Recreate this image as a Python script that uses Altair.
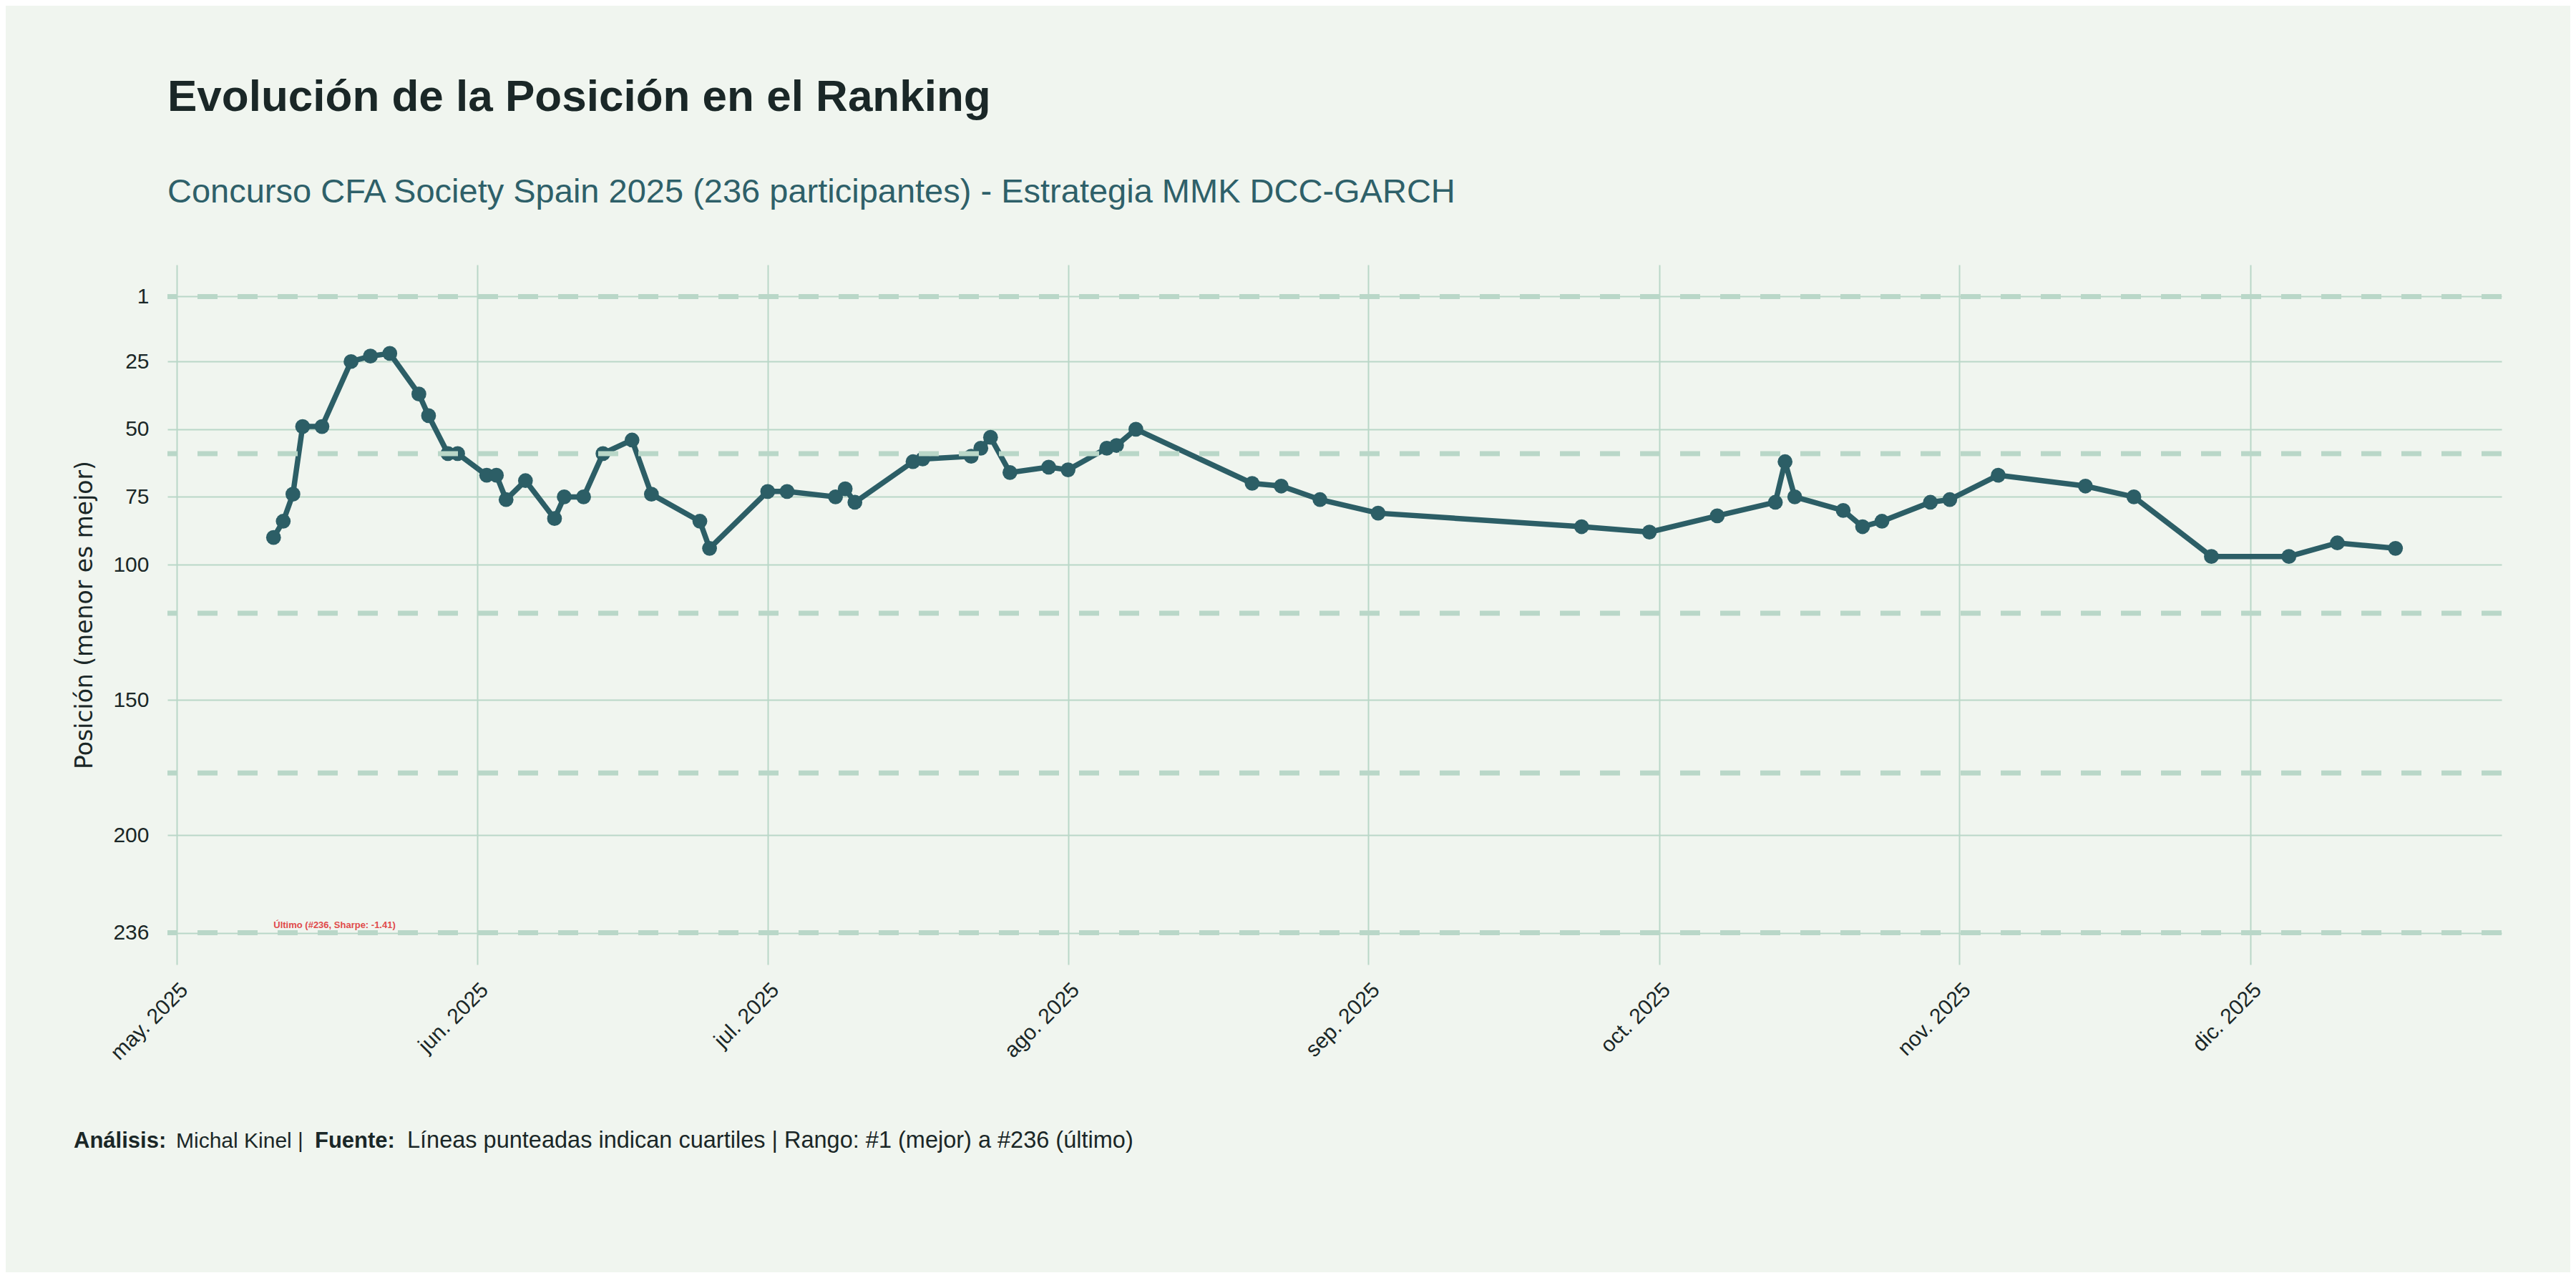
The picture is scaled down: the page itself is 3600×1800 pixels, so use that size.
import altair as alt
import pandas as pd

# ---------------- data ----------------
dates = [
    "2025-05-11", "2025-05-12", "2025-05-13", "2025-05-14", "2025-05-16",
    "2025-05-19", "2025-05-21", "2025-05-23", "2025-05-26", "2025-05-27",
    "2025-05-29", "2025-05-30", "2025-06-02", "2025-06-03", "2025-06-04",
    "2025-06-06", "2025-06-09", "2025-06-10", "2025-06-12", "2025-06-14",
    "2025-06-17", "2025-06-19", "2025-06-24", "2025-06-25", "2025-07-01",
    "2025-07-03", "2025-07-08", "2025-07-09", "2025-07-10", "2025-07-16",
    "2025-07-17", "2025-07-22", "2025-07-23", "2025-07-24", "2025-07-26",
    "2025-07-30", "2025-08-01", "2025-08-05", "2025-08-06", "2025-08-08",
    "2025-08-20", "2025-08-23", "2025-08-27", "2025-09-02", "2025-09-23",
    "2025-09-30", "2025-10-07", "2025-10-13", "2025-10-14", "2025-10-15",
    "2025-10-20", "2025-10-22", "2025-10-24", "2025-10-29", "2025-10-31",
    "2025-11-05", "2025-11-14", "2025-11-19", "2025-11-27", "2025-12-05",
    "2025-12-10", "2025-12-16",
]
positions = [
    90, 84, 74, 49, 49,
    25, 23, 22, 37, 45,
    59, 59, 67, 67, 76,
    69, 83, 75, 75, 59,
    54, 74, 84, 94, 73,
    73, 75, 72, 77, 62,
    61, 60, 57, 53, 66,
    64, 65, 57, 56, 50,
    70, 71, 76, 81, 86,
    88, 82, 77, 62, 75,
    80, 86, 84, 77, 76,
    67, 71, 75, 97, 97,
    92, 94,
]

total_participants = 236
quartile_lines = [1, 59, 118, 177, 236]
y_ticks = [1, 25, 50, 75, 100, 150, 200, 236]
month_ticks = ["2025-05-01", "2025-06-01", "2025-07-01", "2025-08-01",
               "2025-09-01", "2025-10-01", "2025-11-01", "2025-12-01"]
month_names = ["ene", "feb", "mar", "abr", "may", "jun",
               "jul", "ago", "sep", "oct", "nov", "dic"]

title_text = "Evolución de la Posición en el Ranking"
subtitle_text = "Concurso CFA Society Spain 2025 (236 participantes) - Estrategia MMK DCC-GARCH"
y_title = "Posición (menor es mejor)"
last_label = "Último (#236, Sharpe: -1.41)"
footer_parts = ["Análisis:", "Michal Kinel |", "Fuente:",
                "Líneas punteadas indican cuartiles | Rango: #1 (mejor) a #236 (último)"]

# ---------------- styling ----------------
BG = "#f0f5ef"
GRID = "#b9d7c8"
LINE = "#2c5e66"
DARK = "#1a2727"
SUB = "#2e6069"
RED = "#e04a4a"
FONT = "Liberation Sans"

def ms(d):
    return int(pd.Timestamp(d, tz="UTC").timestamp() * 1000)

first, last = ms(dates[0]), ms(dates[-1])
span = last - first
x_domain = [first - 0.05 * span, last + 0.05 * span]
y_span = total_participants - 1
y_domain = [1 - 0.05 * y_span, total_participants + 0.05 * y_span]

df = pd.DataFrame({"date": dates, "pos": positions})

names_js = "[" + ",".join("'%s'" % m for m in month_names) + "]"

x_enc = alt.X(
    "date:T",
    scale=alt.Scale(type="utc", domain=x_domain),
    axis=alt.Axis(
        values=[ms(m) for m in month_ticks],
        labelExpr=names_js + "[utcmonth(datum.value)] + '. ' + utcyear(datum.value)",
        labelAngle=-45, labelAlign="right", labelBaseline="top",
        labelPadding=20, labelFontSize=30, labelColor=DARK, labelFont=FONT,
        grid=True, gridColor=GRID, gridWidth=2,
        domain=False, ticks=False, title=None,
    ),
)
y_enc = alt.Y(
    "pos:Q",
    scale=alt.Scale(domain=y_domain, reverse=True, nice=False, zero=False),
    axis=alt.Axis(
        values=y_ticks, labelFontSize=30, labelColor=DARK, labelFont=FONT,
        labelPadding=26, grid=True, gridColor=GRID, gridWidth=2,
        domain=False, ticks=False, title=y_title, titleFont="DejaVu Sans",
        titleFontSize=33, titleFontWeight="normal", titleColor=DARK,
        titlePadding=22,
    ),
)

base = alt.Chart(df)
line = base.mark_line(color=LINE, strokeWidth=7.5).encode(x=x_enc, y=y_enc)
pts = base.mark_circle(color=LINE, size=430, opacity=1).encode(x="date:T", y="pos:Q")

rules = alt.Chart(pd.DataFrame({"pos": quartile_lines})).mark_rule(
    color=GRID, strokeWidth=7, strokeDash=[28, 28]
).encode(y="pos:Q")

last_df = pd.DataFrame({"date": [dates[0]], "pos": [total_participants], "t": [last_label]})
last_txt = alt.Chart(last_df).mark_text(
    color=RED, fontSize=13, fontWeight="bold", font=FONT,
    align="left", baseline="bottom", dy=-4,
).encode(x="date:T", y="pos:Q", text="t:N")

def text_layer(txt, x, y, size, color, weight="normal", font=FONT):
    return alt.Chart(pd.DataFrame({"t": [txt]})).mark_text(
        align="left", baseline="alphabetic", fontSize=size, color=color,
        fontWeight=weight, font=font,
    ).encode(text="t:N", x=alt.value(x), y=alt.value(y))

title_l = text_layer(title_text, 0, -215, 62, DARK, "bold")
sub_l = text_layer(subtitle_text, 0, -87, 47, SUB)
f1 = text_layer(footer_parts[0], -131, 1234, 31, DARK, "bold")
f2 = text_layer(footer_parts[1], 12, 1234, 30, DARK)
f3 = text_layer(footer_parts[2], 206, 1234, 31, DARK, "bold")
f4 = text_layer(footer_parts[3], 335, 1234, 32.5, DARK)

chart = alt.layer(
    line, pts, rules, last_txt, title_l, sub_l, f1, f2, f3, f4
).properties(
    width=3262, height=978,
    background=BG,
    padding={"left": 226, "top": 362, "right": 96, "bottom": 430},
    autosize=alt.AutoSizeParams(type="none"),
).configure_view(stroke=None)

chart.save("out.html", embed_options={"renderer": "svg", "actions": False})
